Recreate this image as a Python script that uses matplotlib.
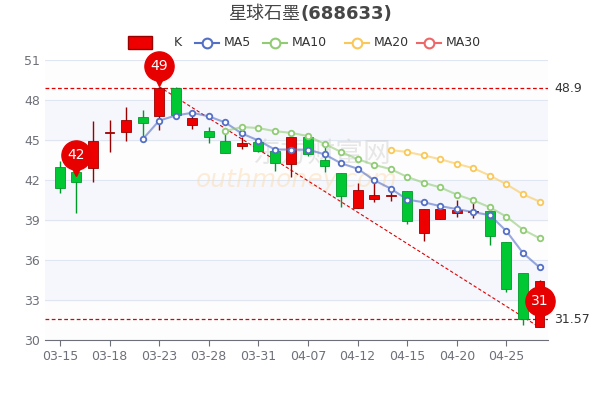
import matplotlib
matplotlib.use('Agg')
import matplotlib.pyplot as plt
import matplotlib.transforms as mtransforms
import numpy as np
import pandas as pd

plt.rcParams['font.family'] = ['DejaVu Sans', 'Noto Sans CJK SC']

# Input data
dates = ['03-15', '03-16', '03-17', '03-18', '03-21', '03-22', '03-23', '03-24', '03-25', '03-28',
         '03-29', '03-30', '03-31', '04-01', '04-06', '04-07', '04-08', '04-11', '04-12', '04-13',
         '04-14', '04-15', '04-18', '04-19', '04-20', '04-21', '04-22', '04-25', '04-26', '04-27']
opens = [42.95, 42.6, 42.88, 45.55, 45.6, 46.73, 46.83, 48.9, 46.1, 45.65,
         44.9, 44.53, 44.83, 44.15, 43.23, 45.25, 43.5, 42.5, 39.93, 40.55,
         40.8, 41.15, 38.05, 39.05, 39.5, 39.58, 39.65, 37.38, 35.0, 31.0]
closes = [41.4, 41.85, 44.93, 45.6, 46.53, 46.3, 48.9, 46.85, 46.62, 45.2,
          44.0, 44.78, 44.2, 43.25, 45.2, 43.95, 43.05, 40.8, 41.25, 40.85,
          40.85, 38.9, 39.8, 39.8, 39.75, 39.68, 37.8, 33.8, 31.57, 34.4]
highs = [43.4, 42.8, 46.4, 46.5, 47.45, 47.25, 49.0, 48.95, 47.2, 46.0,
         45.5, 45.2, 44.9, 44.3, 45.3, 45.3, 44.5, 42.5, 41.75, 41.75,
         41.25, 41.15, 39.85, 39.8, 40.5, 40.5, 39.7, 37.38, 35.0, 34.5]
lows = [41.05, 39.55, 41.83, 44.08, 44.95, 45.05, 45.75, 46.8, 45.8, 44.8,
        44.0, 44.3, 44.1, 42.7, 42.25, 43.8, 42.6, 40.0, 39.93, 40.38,
        40.45, 38.7, 37.4, 39.05, 39.25, 39.12, 37.1, 33.63, 31.1, 30.95]
ma_periods = [5, 10, 20, 30]
ma_colors = ['#5470c6', '#91cc75', '#fac858', '#ee6666']

UP = '#ee0000'
DOWN = '#00c832'

fig = plt.figure(figsize=(6, 4), dpi=100)
ax = fig.add_axes([0.075, 0.15, 0.838, 0.70])
x = np.arange(len(dates))

# background bands
yt = np.arange(30, 52, 3)
for i in range(len(yt) - 1):
    ax.axhspan(yt[i], yt[i + 1], color='#f5f7fc' if i % 2 else '#fdfdfe', zorder=0)
for v in yt:
    ax.axhline(v, color='#e0e6f1', lw=0.8, zorder=0.5)

# watermark
ax.text(0.55, 0.66, '东方财富网', transform=ax.transAxes, fontsize=20, color='#cccccc',
        alpha=0.45, ha='center', va='center', fontfamily='Noto Sans CJK SC', zorder=1)
ax.text(0.5, 0.57, 'outhmoney.com', transform=ax.transAxes, fontsize=18, color='#fcd9a8',
        alpha=0.45, ha='center', va='center', style='italic', zorder=1)

# candles
for i in x:
    o, c, h, l = opens[i], closes[i], highs[i], lows[i]
    col = UP if c >= o else DOWN
    edge = '#990000' if c >= o else '#009a28'
    ax.vlines(i, l, h, color=edge, lw=1, zorder=3)
    bh = max(abs(c - o), 0.05)
    ax.add_patch(plt.Rectangle((i - 0.3, min(o, c)), 0.6, bh, facecolor=col,
                               edgecolor=edge, lw=0.6, zorder=4))

# moving averages
s = pd.Series(closes)
for p, col in zip(ma_periods, ma_colors):
    ma = s.rolling(p).mean()
    ma[:p] = np.nan
    ax.plot(x, ma, color=col, lw=1.5, alpha=0.6, zorder=5)
    ax.plot(x, ma, 'o', ms=4, mfc='white', mec=col, mew=1.3, zorder=6)

# mark lines
mx, mn = max(closes), min(closes)
ax.axhline(mx, color='#e00000', ls=(0, (3, 2)), lw=0.9, zorder=2)
ax.axhline(mn, color='#e00000', ls=(0, (3, 2)), lw=0.9, zorder=2)
ax.text(29.9, mx, '48.9', va='center', ha='left', fontsize=9, color='#333333', clip_on=False)
ax.text(29.9, mn, '31.57', va='center', ha='left', fontsize=9, color='#333333', clip_on=False)
imax = int(np.argmax(highs))
imin = int(np.argmin(lows))
ax.plot([imax, imin], [highs[imax], lows[imin]], color='#e00000', ls=(0, (3, 2)), lw=0.8, zorder=2)

# pins
def pin(xi, yv, label):
    t_tri = mtransforms.offset_copy(ax.transData, fig=fig, x=0, y=6, units='points')
    t_cir = mtransforms.offset_copy(ax.transData, fig=fig, x=0, y=15, units='points')
    ax.plot([xi], [yv], marker='v', ms=11, color='#e60000', transform=t_tri, zorder=9, clip_on=False)
    ax.plot([xi], [yv], marker='o', ms=21, color='#e60000', transform=t_cir, zorder=9, clip_on=False)
    ax.text(xi, yv, label, transform=t_cir, ha='center', va='center', color='white',
            fontsize=10, zorder=10)

pin(imax, highs[imax], '49')
pin(1, 42.3, '42')
ax.plot([29], [32.9], marker='o', ms=21, color='#e60000', zorder=9, clip_on=False)
ax.text(29, 32.9, '31', ha='center', va='center', color='white', fontsize=10, zorder=10)

ax.set_xlim(-0.9, 29.5)
ax.set_ylim(30, 51)
ax.set_yticks(yt)
ax.set_xticks(x[::3])
ax.set_xticklabels(dates[::3])
ax.tick_params(axis='y', length=0, labelsize=9, colors='#6e7079')
ax.tick_params(axis='x', labelsize=9, colors='#6e7079', length=4)
for k in ['top', 'right', 'left']:
    ax.spines[k].set_visible(False)
ax.spines['bottom'].set_color('#6e7079')

fig.text(0.5, 0.965, '星球石墨', ha='right', va='center', fontsize=13, color='#464646',
         fontfamily='Noto Sans CJK SC')
fig.text(0.5, 0.965, '(688633)', ha='left', va='center', fontsize=13, color='#464646',
         fontweight='bold')

# legend
ly = 0.893
fig.patches.append(plt.Rectangle((0.213, ly - 0.016), 0.04, 0.032, transform=fig.transFigure,
                                 fc=UP, ec='#990000', lw=1))
fig.text(0.29, ly, 'K', va='center', fontsize=9, color='#333333')
pos = [0.325, 0.438, 0.575, 0.695]
for p, col, px in zip(ma_periods, ma_colors, pos):
    fig.lines.append(plt.Line2D([px, px + 0.04], [ly, ly], transform=fig.transFigure, color=col, lw=1.5))
    fig.lines.append(plt.Line2D([px + 0.02], [ly], transform=fig.transFigure, marker='o', ms=7,
                                mfc='white', mec=col, mew=1.5))
    fig.text(px + 0.048, ly, f'MA{p}', va='center', fontsize=9, color='#333333')

fig.savefig('out.png', dpi=100)
